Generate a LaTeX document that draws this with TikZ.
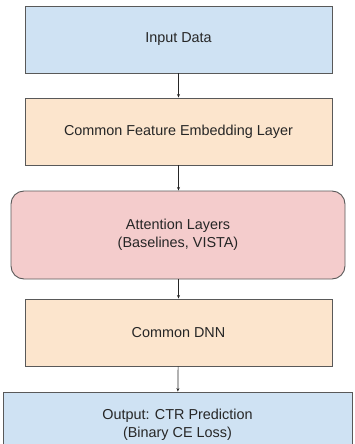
\documentclass[tikz,border=0pt]{standalone}
\usepackage{fontspec}
\setmainfont{Liberation Sans}
\usetikzlibrary{arrows.meta, positioning}

\definecolor{boxblue}{HTML}{CFE2F3}
\definecolor{boxorange}{HTML}{FCE5CD}
\definecolor{boxred}{HTML}{F4CCCC}
\definecolor{boxline}{HTML}{595959}

\begin{document}
\begin{tikzpicture}[x=1pt, y=-1pt,
    schicht/.style = {draw = boxline, line width = 0.9pt, align = center,
        minimum width = 307pt, minimum height = 67pt, inner sep = 0pt,
        font = \fontsize{14.4}{17.5}\selectfont, text = black!85},
    pfeil/.style = {-{Stealth[length = 3.5pt, width = 3pt]}, line width = 0.7pt, black!85}]

%%% Definition der BoundingBox 355 x 444
\useasboundingbox (0,0) rectangle (355,444);
\clip (0,0) rectangle (355,444);

%%% Schichten
\node[schicht, fill = boxblue]   (input)  at (178.5,39.5)  {Input Data};
\node[schicht, fill = boxorange] (embed)  at (178.5,131.5) {Common Feature Embedding Layer};
\node[schicht, fill = boxred, rounded corners = 13pt,
      minimum width = 334pt, minimum height = 88pt] (attn) at (178,235)
      {Attention Layers\\(Baselines, VISTA)};
\node[schicht, fill = boxorange] (dnn)    at (178.5,332.5) {Common DNN};
\node[schicht, fill = boxblue, minimum width = 349pt,
      text depth = 4pt] (output) at (177.5,425.5)
      {Output: CTR Prediction\\(Binary CE Loss)};

%%% Verbindungen
\draw[pfeil] (input) -- (embed);
\draw[pfeil] (embed) -- (embed |- attn.north);
\draw[pfeil] (attn.south -| dnn) -- (dnn);
\draw[pfeil] (dnn) -- (output);
\end{tikzpicture}
\end{document}
